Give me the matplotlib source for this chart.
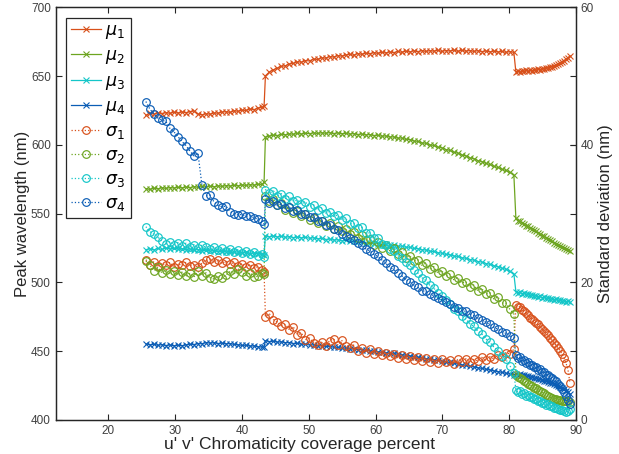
import matplotlib.pyplot as plt

plt.rcParams['font.family'] = ['Liberation Sans', 'DejaVu Sans']
plt.rcParams['mathtext.fontset'] = 'dejavusans'

# Chromaticity coverage (%) of each sample
coverage = [
    25.6, 26.2, 26.8, 27.4, 28.0, 28.6, 29.2, 29.8, 30.4, 31.0,
    31.6, 32.2, 32.8, 33.4, 34.0, 34.6, 35.2, 35.8, 36.4, 37.0,
    37.6, 38.2, 38.8, 39.4, 40.0, 40.6, 41.2, 41.8, 42.4, 43.0, 43.3,
    43.5, 44.1, 44.7, 45.3, 45.9, 46.5, 47.1, 47.7, 48.3, 48.9,
    49.5, 50.1, 50.7, 51.3, 51.9, 52.5, 53.1, 53.7, 54.3, 54.9,
    55.5, 56.1, 56.7, 57.3, 57.9, 58.5, 59.1, 59.7, 60.3, 60.9,
    61.5, 62.1, 62.7, 63.3, 63.9, 64.5, 65.1, 65.7, 66.3, 66.9,
    67.5, 68.1, 68.7, 69.3, 69.9, 70.5, 71.1, 71.7, 72.3, 72.9,
    73.5, 74.1, 74.7, 75.3, 75.9, 76.5, 77.1, 77.7, 78.3, 78.9,
    79.5, 80.1, 80.7,
    81.0, 81.3, 81.6, 81.9, 82.2, 82.5, 82.8, 83.1, 83.4, 83.7,
    84.0, 84.3, 84.6, 84.9, 85.2, 85.5, 85.8, 86.1, 86.4, 86.7,
    87.0, 87.3, 87.6, 87.9, 88.2, 88.5, 88.8, 89.1,
]

# peak wavelengths (nm)
mu1 = [
    621.5, 623.0, 622.4, 623.2, 622.8, 623.5, 622.9, 623.8, 623.1, 624.0,
    623.4, 624.2, 624.6, 622.5, 621.8, 622.6, 622.3, 623.2, 623.0, 623.9,
    624.1, 623.6, 624.8, 624.4, 625.3, 625.0, 626.1, 625.6, 626.8, 627.4, 628.2,
    650.2, 653.0, 654.6, 655.8, 657.1, 657.5, 658.9, 659.2, 660.4, 660.1,
    661.3, 661.0, 662.4, 662.1, 663.3, 663.0, 664.2, 663.8, 664.9, 664.5,
    665.3, 665.9, 665.1, 666.4, 665.8, 666.7, 666.2, 667.1, 666.5, 667.3,
    666.8, 667.6, 667.0, 667.9, 667.3, 668.2, 667.5, 668.4, 667.7, 668.6,
    667.9, 668.5, 668.1, 668.8, 667.9, 668.6, 668.2, 668.9, 668.0, 668.7,
    668.1, 668.6, 667.9, 668.5, 667.8, 668.3, 667.6, 668.2, 667.5, 667.9,
    667.3, 667.8, 667.2,
    653.0, 653.6, 652.8, 653.9, 653.4, 654.1, 653.5, 654.3, 653.8, 654.5,
    654.2, 655.0, 654.6, 655.5, 655.2, 656.0, 655.8, 656.6, 656.9, 657.5,
    657.8, 658.9, 659.4, 660.5, 661.2, 662.4, 663.3, 664.6,
]
mu2 = [
    568.2, 567.6, 568.5, 568.0, 568.9, 568.3, 569.0, 568.6, 569.2, 568.7,
    569.4, 568.9, 569.6, 569.1, 569.8, 569.3, 570.0, 569.5, 570.2, 569.8,
    570.4, 570.0, 570.6, 570.2, 570.9, 570.5, 571.1, 570.7, 571.4, 571.2, 573.0,
    605.6, 606.4, 607.1, 606.8, 607.6, 607.3, 608.0, 607.7, 608.3, 607.9,
    608.5, 608.1, 608.7, 608.3, 608.8, 608.4, 608.9, 608.2, 608.7, 608.1,
    608.4, 607.8, 608.2, 607.5, 607.9, 607.2, 607.5, 606.8, 607.0, 606.3,
    606.5, 605.7, 605.8, 604.9, 605.0, 604.0, 603.9, 602.8, 602.6, 601.4,
    601.2, 600.0, 599.6, 598.4, 597.9, 596.6, 596.0, 594.7, 594.0, 592.7,
    592.0, 590.6, 590.0, 588.5, 587.9, 586.5, 585.8, 584.4, 583.6, 582.3,
    581.4, 580.0, 578.2,
    546.5, 545.0, 544.6, 543.2, 542.8, 541.3, 540.9, 539.6, 539.2, 537.8,
    537.3, 535.9, 535.4, 534.1, 533.6, 532.4, 531.8, 530.6, 530.0, 529.0,
    528.3, 527.4, 526.6, 525.9, 525.0, 524.5, 523.6, 523.2,
]
mu3 = [
    523.8, 524.4, 523.6, 524.7, 524.0, 525.1, 524.3, 524.9, 524.2, 524.6,
    523.9, 524.3, 523.5, 523.9, 523.1, 523.5, 522.7, 523.2, 522.4, 522.9,
    522.1, 522.6, 521.8, 522.2, 521.4, 521.8, 521.0, 521.4, 520.6, 520.9, 520.3,
    533.6, 533.2, 533.8, 533.0, 533.5, 532.8, 533.3, 532.6, 533.0, 532.4,
    532.8, 532.1, 532.5, 531.7, 532.0, 531.2, 531.5, 530.8, 531.0, 530.3,
    530.5, 529.8, 530.0, 529.2, 529.4, 528.6, 528.8, 528.0, 528.2, 527.4,
    527.6, 526.9, 527.0, 526.3, 526.4, 525.6, 525.6, 524.7, 524.6, 523.7,
    523.6, 522.7, 522.5, 521.6, 521.3, 520.4, 520.1, 519.2, 518.9, 517.9,
    517.6, 516.6, 516.2, 515.2, 514.8, 513.7, 513.2, 512.1, 511.5, 510.3,
    509.6, 508.0, 506.2,
    493.4, 492.6, 492.8, 491.9, 492.1, 491.3, 491.5, 490.7, 490.9, 490.2,
    490.4, 489.6, 489.8, 489.0, 489.2, 488.4, 488.6, 487.9, 488.1, 487.4,
    487.6, 486.9, 487.1, 486.4, 486.6, 486.0, 486.3, 485.8,
]
mu4 = [
    455.4, 454.6, 455.1, 454.3, 454.8, 454.1, 454.6, 453.9, 454.4, 454.0,
    454.6, 455.1, 454.8, 455.6, 455.4, 456.3, 455.9, 456.2, 455.6, 455.9,
    455.3, 455.6, 454.9, 454.7, 454.2, 454.4, 453.7, 453.9, 453.2, 453.0, 453.3,
    457.6, 457.0, 457.3, 456.6, 456.8, 456.2, 456.3, 455.6, 455.7, 455.1,
    455.1, 454.5, 454.6, 454.0, 454.0, 453.5, 453.4, 452.9, 452.8, 452.3,
    452.2, 451.7, 451.6, 451.2, 451.0, 450.6, 450.3, 449.9, 449.6, 449.2,
    449.0, 448.5, 448.4, 447.8, 447.6, 447.0, 446.7, 446.1, 445.7, 445.1,
    444.7, 444.2, 443.8, 443.3, 442.8, 442.2, 441.8, 441.2, 440.7, 440.1,
    439.7, 439.1, 438.6, 438.0, 437.5, 436.9, 436.4, 435.7, 435.2, 434.6,
    434.0, 433.4, 432.8,
    433.6, 433.0, 433.2, 432.5, 432.6, 431.9, 431.9, 431.2, 431.2, 430.5,
    430.4, 429.8, 429.6, 429.0, 428.7, 428.1, 427.7, 427.0, 426.6, 425.9,
    425.4, 424.6, 424.0, 423.0, 422.3, 421.1, 420.2, 419.0,
]

# standard deviations (nm)
sd1 = [
    23.3, 22.6, 23.0, 22.4, 22.8, 22.5, 22.9, 22.3, 22.7, 22.5,
    22.9, 22.4, 22.6, 22.2, 22.8, 23.2, 23.4, 23.0, 23.3, 22.8,
    23.1, 22.7, 22.9, 22.4, 22.7, 22.2, 22.6, 22.1, 22.3, 21.8, 21.5,
    15.0, 15.4, 14.6, 14.2, 13.7, 13.9, 13.1, 13.5, 12.4, 12.6,
    11.7, 11.9, 11.2, 10.9, 11.3, 10.8, 11.5, 11.8, 10.9, 11.6,
    10.7, 10.4, 10.9, 10.1, 10.5, 9.8, 10.3, 9.6, 10.0, 9.4,
    9.8, 9.3, 9.6, 9.0, 9.5, 8.8, 9.3, 8.7, 9.1, 8.6,
    9.0, 8.5, 8.8, 8.3, 8.9, 8.4, 8.7, 8.2, 8.8, 8.5,
    8.9, 8.4, 8.8, 8.6, 9.1, 8.7, 9.2, 8.9, 9.5, 9.2,
    9.8, 9.6, 10.3,
    16.7, 16.4, 16.5, 16.0, 15.8, 15.6, 15.2, 14.9, 14.7, 14.4,
    14.1, 13.9, 13.5, 13.3, 12.9, 12.6, 12.3, 11.9, 11.6, 11.2,
    10.9, 10.5, 10.1, 9.6, 9.0, 8.3, 7.3, 5.4,
]
sd2 = [
    23.1, 22.5, 21.7, 22.2, 21.4, 21.8, 21.2, 21.6, 21.1, 21.5,
    20.9, 21.3, 20.8, 21.6, 21.0, 21.4, 20.7, 20.5, 20.9, 20.6,
    21.1, 21.6, 21.2, 22.0, 21.5, 21.0, 21.4, 20.8, 20.9, 21.3, 21.2,
    32.6, 31.8, 32.1, 31.2, 31.5, 30.6, 30.9, 30.1, 30.4, 29.6,
    29.9, 29.1, 29.4, 28.6, 28.9, 28.2, 28.6, 27.8, 28.2, 27.5,
    27.8, 27.0, 27.3, 26.5, 26.9, 26.1, 26.3, 25.5, 25.9, 25.0,
    25.4, 24.6, 25.0, 24.1, 24.4, 23.6, 23.9, 23.1, 23.3, 22.5,
    22.8, 21.9, 22.3, 21.4, 21.7, 20.9, 21.2, 20.4, 20.7, 19.9,
    20.1, 19.3, 19.6, 18.8, 19.1, 18.3, 18.5, 17.6, 17.9, 17.0,
    17.0, 16.1, 15.4,
    6.6, 6.3, 6.1, 5.9, 5.7, 5.5, 5.3, 5.1, 4.9, 4.7,
    4.6, 4.4, 4.2, 4.0, 3.9, 3.7, 3.5, 3.3, 3.2, 3.1,
    3.0, 2.9, 2.9, 2.8, 2.8, 2.7, 2.7, 2.6,
]
sd3 = [
    28.1, 27.4, 27.0, 26.6, 26.0, 25.6, 25.9, 25.5, 25.8, 25.3,
    25.7, 25.2, 25.5, 25.0, 25.4, 25.1, 24.8, 25.2, 24.7, 25.0,
    24.6, 24.9, 24.4, 24.7, 24.3, 24.5, 24.1, 24.4, 23.9, 24.1, 23.7,
    33.5, 33.0, 33.3, 32.6, 32.9, 32.2, 32.5, 31.8, 32.0, 31.4,
    31.7, 31.0, 31.3, 30.6, 30.8, 30.1, 30.3, 29.6, 29.8, 29.1,
    29.3, 28.5, 28.6, 27.9, 28.0, 27.2, 27.2, 26.4, 26.4, 25.6,
    25.5, 24.8, 24.6, 23.9, 23.6, 22.9, 22.5, 21.8, 21.4, 20.7,
    20.3, 19.6, 19.2, 18.5, 18.0, 17.4, 16.9, 16.2, 15.8, 15.1,
    14.7, 14.0, 13.6, 12.9, 12.5, 11.8, 11.3, 10.6, 10.1, 9.3,
    8.8, 7.9, 6.9,
    4.4, 4.1, 4.2, 3.8, 3.9, 3.5, 3.6, 3.3, 3.3, 3.0,
    3.0, 2.7, 2.8, 2.5, 2.5, 2.2, 2.3, 2.0, 2.0, 1.8,
    1.8, 1.6, 1.5, 1.4, 1.3, 1.2, 1.3, 1.6,
]
sd4 = [
    46.3, 45.2, 44.5, 43.9, 43.6, 43.4, 42.4, 41.9, 41.2, 40.5,
    39.9, 39.1, 38.4, 38.8, 34.1, 32.6, 32.7, 31.7, 31.2, 31.0,
    31.1, 30.3, 30.0, 29.8, 29.9, 29.6, 29.7, 29.4, 29.2, 28.9, 28.5,
    32.1, 31.6, 31.8, 31.2, 31.4, 30.8, 31.0, 30.4, 30.5, 29.9,
    30.0, 29.5, 29.5, 29.0, 28.9, 28.4, 28.3, 27.7, 27.6, 27.0,
    26.8, 26.4, 26.1, 25.7, 25.4, 24.9, 24.6, 24.1, 23.8, 23.3,
    22.8, 22.2, 21.9, 21.3, 21.0, 20.4, 20.1, 19.6, 19.3, 18.8,
    18.7, 18.3, 18.1, 17.7, 17.5, 17.1, 16.9, 16.5, 16.3, 15.9,
    15.8, 15.4, 15.2, 14.8, 14.6, 14.2, 13.9, 13.5, 13.2, 12.8,
    12.6, 12.2, 11.9,
    9.4, 9.0, 9.1, 8.6, 8.7, 8.3, 8.4, 8.0, 8.0, 7.7,
    7.7, 7.3, 7.4, 7.0, 7.0, 6.6, 6.6, 6.2, 6.1, 5.8,
    5.6, 5.2, 4.9, 4.5, 4.0, 3.5, 2.9, 2.3,
]

colors = ['#D8501A', '#6DA520', '#14C6C8', '#0B5DB5']
axis_grey = '#262626'
text_grey = '#404040'

fig = plt.figure(figsize=(6.19, 4.54), dpi=100)
ax = fig.add_axes([0.090, 0.0749, 0.8405, 0.909])
ax2 = ax.twinx()

handles = []
for i, (ys, c) in enumerate(zip([mu1, mu2, mu3, mu4], colors)):
    h, = ax.plot(coverage, ys, '-', color=c, lw=0.9, marker='x',
                 ms=4.5, mew=0.8, label=rf'$\mu_{i + 1}$')
    handles.append(h)
for i, (ys, c) in enumerate(zip([sd1, sd2, sd3, sd4], colors)):
    h, = ax2.plot(coverage, ys, ':', color=c, lw=0.9, marker='o',
                  ms=5.5, mew=0.85, mfc='none', label=rf'$\sigma_{i + 1}$')
    handles.append(h)

ax.set_xlim(12.1, 90)
ax.set_ylim(400, 700)
ax2.set_ylim(0, 60)
ax.set_xticks(range(20, 91, 10))
ax.set_yticks(range(400, 701, 50))
ax2.set_yticks([0, 20, 40, 60])

ax.set_xlabel("u' v' Chromaticity coverage percent", fontsize=12.5,
              color=axis_grey)
ax.xaxis.set_label_coords(0.4695, -0.041)
ax.set_ylabel('Peak wavelength (nm)', fontsize=12, color=axis_grey,
              labelpad=1)
ax2.set_ylabel('Standard deviation (nm)', fontsize=12, color=axis_grey,
               labelpad=3)

for a in (ax, ax2):
    for s in a.spines.values():
        s.set_color(axis_grey)
        s.set_linewidth(0.9)
ax.tick_params(direction='in', length=4, width=0.8, colors=axis_grey,
               labelcolor=text_grey, labelsize=8.5, top=True, right=True)
ax2.tick_params(direction='in', length=4, width=0.8, colors=axis_grey,
                labelcolor=text_grey, labelsize=8.5)

leg = ax2.legend(handles=handles, loc='upper left',
                 bbox_to_anchor=(0.0198, 0.974), borderaxespad=0,
                 fontsize=12.5, handlelength=1.7, handletextpad=0.25,
                 labelspacing=0.4, borderpad=0.3, fancybox=False,
                 framealpha=1)
leg.get_frame().set_edgecolor(axis_grey)
leg.get_frame().set_linewidth(0.9)

fig.savefig('out.png', dpi=100)
